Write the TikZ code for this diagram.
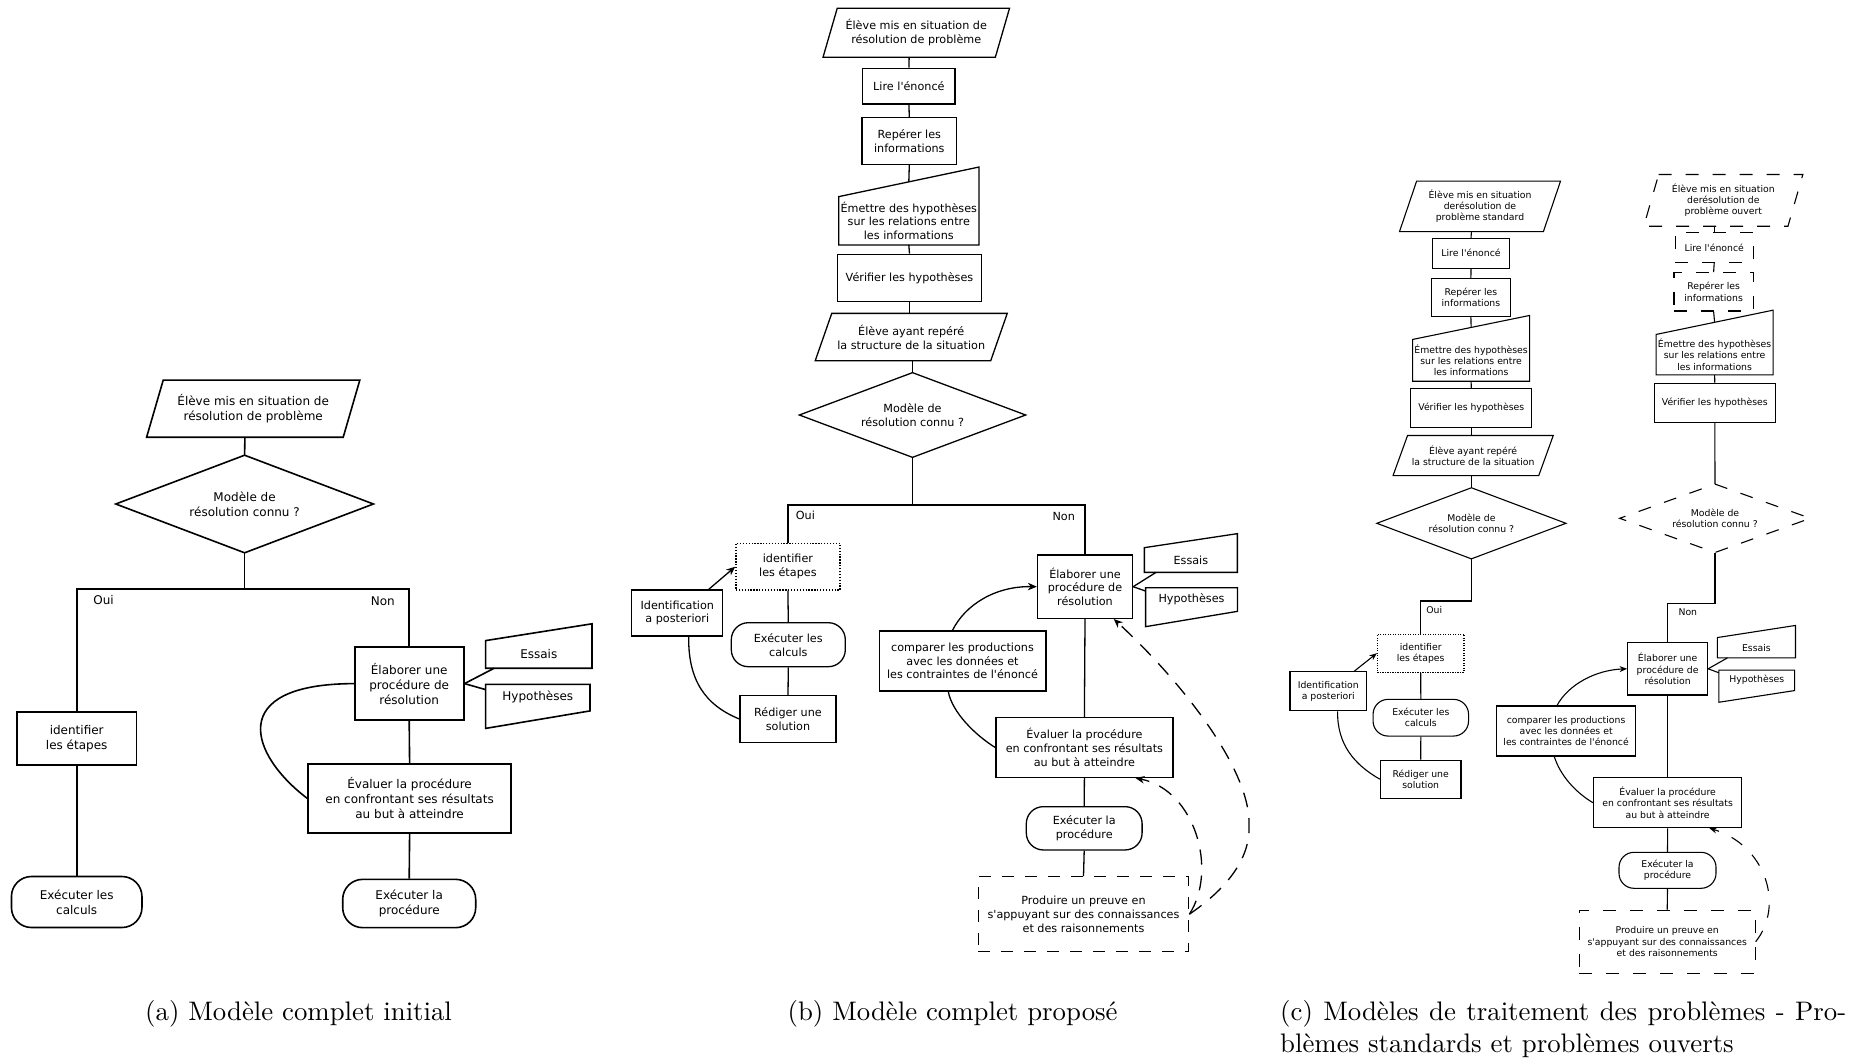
\documentclass[tikz,border=0pt]{standalone}
\usepackage{fontspec}
\newfontfamily\djv{DejaVu Sans}
\font\capf="[lmroman10-regular]:+tlig;" at 26.8pt
\usetikzlibrary{arrows.meta}
\tikzset{
  wh/.style 2 args={minimum width=#1pt, minimum height=#2pt},
  box/.style={draw, rectangle, inner sep=0pt, align=center},
  blank/.style={rectangle, inner sep=0pt, align=center},
  term/.style={draw, rectangle, inner sep=0pt, align=center, rounded corners=#1},
  term/.default=18pt,
  lbl/.style={inner sep=0pt},
  fA/.style={font=\djv\fontsize{12}{15}\selectfont},
  fB/.style={font=\djv\fontsize{11.2}{13.8}\selectfont},
  fC/.style={font=\djv\fontsize{9.3}{11.2}\selectfont},
  dashB/.style={dash pattern=on 12pt off 11pt},
  dashBc/.style={dash pattern=on 15pt off 11pt},
  dashC/.style={dash pattern=on 13pt off 14pt},
  dotB/.style={dash pattern=on 1.3pt off 1.6pt},
  dotC/.style={dash pattern=on 1.1pt off 1.4pt},
  arrB/.style={-{Stealth[length=9pt,width=7.5pt]}},
  arrC/.style={-{Stealth[length=7.5pt,width=6pt]}},
  captxt/.style={font=\capf, inner sep=0pt, anchor=base west}
}
\begin{document}
\begin{tikzpicture}[x=1pt,y=-1pt]
\fill[white] (0,0) rectangle (1865,1057);
\useasboundingbox (0,0) rectangle (1865,1057);

% ---------------- panel (a)
\begin{scope}[line width=1.6pt, every node/.append style={fA}]
\node[blank, wh={195}{55.5}] (a1) at (253.2,408.7) {Élève mis en situation de\\résolution de problème};
\draw ([xshift=8.3pt]a1.north west) -- ([xshift=8.3pt]a1.north east) -- ([xshift=-8.3pt]a1.south east) -- ([xshift=-8.3pt]a1.south west) -- cycle;
\node[blank, wh={256}{96}] (a2) at (244.6,504) {Modèle de\\résolution connu ?};
\draw (a2.north) -- (a2.east) -- (a2.south) -- (a2.west) -- cycle;
\coordinate (aj) at (244.6,589);
\node[box, wh={119.4}{52.8}] (a3) at (76.7,738.4) {identifier\\les étapes};
\node[term=20pt, wh={130.5}{51}] (a4) at (76.7,902) {Exécuter les\\calculs};
\node[box, wh={109}{73.2}] (a5) at (409.2,683.6) {Élaborer une\\procédure de\\résolution};
\node[blank, wh={104.8}{26}] (a6) at (538.8,654.4) {Essais};
\draw (a6.south west) -- (a6.north west) -- ([yshift=16.8pt]a6.north east) -- (a6.south east) -- cycle;
\node[blank, wh={102.8}{23.8}] (a7) at (537.8,697.1) {Hypothèses};
\draw (a7.north west) -- (a7.north east) -- ([yshift=-1.1pt]a7.south east) -- ([yshift=-18.6pt]a7.south west) -- cycle;
\node[box, wh={203}{68.8}] (a8) at (409.6,798.4) {Évaluer la procédure\\en confrontant ses résultats\\au but à atteindre};
\node[term=20pt, wh={133}{48.3}] (a9) at (409.2,903.5) {Exécuter la\\procédure};
\node[lbl] (a10) at (103.6,599.7) {Oui};
\node[lbl] (a11) at (382.8,601.6) {Non};
\draw ([xshift=-8.3pt]a1.south) -- (a2.north);
\draw (a2.south) -- (aj);
\draw (a3.north) |- (aj) -| (a5.north);
\draw (a3.south) -- (a4.north);
\draw (a5.east) -- ([xshift=8.6pt]a6.south west);
\draw (a5.east) -- ([yshift=-5.2pt]a7.north west);
\draw (a5.south) -- (a8.north);
\draw (a8.south) -- (a9.north);
\draw (a5.west) .. controls (225,684) and (250,755) .. (a8.west);
\end{scope}

% ---------------- panel (b)
\begin{scope}[line width=1.3pt, every node/.append style={fB}]
\node[blank, wh={171}{47.7}] (b1) at (916.25,32.85) {Élève mis en situation de\\résolution de problème};
\draw ([xshift=7.1pt]b1.north west) -- ([xshift=7.1pt]b1.north east) -- ([xshift=-7.1pt]b1.south east) -- ([xshift=-7.1pt]b1.south west) -- cycle;
\node[box, wh={92.3}{35.7}] (b2) at (908.9,86.2) {Lire l{\textquotesingle}énoncé};
\node[box, wh={94.7}{46.6}] (b3) at (909.3,141) {Repérer les\\informations};
\node[blank, wh={139}{47}] (b4) at (908.8,220.8) {Émettre des hypothèses\\sur les relations entre\\les informations};
\draw (b4.south west) -- (b4.north west) -- ([yshift=29.6pt]b4.north east) -- (b4.south east) -- cycle;
\node[box, wh={144.4}{47.4}] (b5) at (909.5,278) {Vérifier les hypothèses};
\node[blank, wh={174.2}{46}] (b6) at (911.25,337) {Élève ayant repéré\\la structure de la situation};
\draw ([xshift=8.25pt]b6.north west) -- ([xshift=8.25pt]b6.north east) -- ([xshift=-8.25pt]b6.south east) -- ([xshift=-8.25pt]b6.south west) -- cycle;
\node[blank, wh={225}{83.4}] (b7) at (912.5,415) {Modèle de\\résolution connu ?};
\draw (b7.north) -- (b7.east) -- (b7.south) -- (b7.west) -- cycle;
\coordinate (bj) at (912.5,505);
\node[box, dotB, wh={104}{46.7}] (b8) at (787.9,566.7) {identifier\\les étapes};
\node[term=17pt, wh={114}{44}] (b9) at (788.3,644.7) {Exécuter les\\calculs};
\node[box, wh={96}{46.7}] (b10) at (788,719) {Rédiger une\\solution};
\node[box, wh={91}{46}] (b11) at (677.3,613) {Identification\\a posteriori};
\node[box, wh={95}{63.3}] (b12) at (1085,586.7) {Élaborer une\\procédure de\\résolution};
\node[blank, wh={91.7}{23.4}] (b13) at (1190.85,560) {Essais};
\draw (b13.south west) -- (b13.north west) -- ([yshift=14pt]b13.north east) -- (b13.south east) -- cycle;
\node[blank, wh={90.5}{22}] (b14) at (1191.5,599.3) {Hypothèses};
\draw (b14.north west) -- (b14.north east) -- ([yshift=-0.4pt]b14.south east) -- ([yshift=-15.7pt]b14.south west) -- cycle;
\node[box, wh={166.7}{60}] (b15) at (962.5,661) {comparer les productions\\avec les données et\\les contraintes de l{\textquotesingle}énoncé};
\node[box, wh={177}{59.7}] (b16) at (1084.4,747.5) {Évaluer la procédure\\en confrontant ses résultats\\au but à atteindre};
\node[term=17pt, wh={115.8}{43.3}] (b17) at (1084.2,828.3) {Exécuter la\\procédure};
\node[box, dashB, wh={210.4}{75}] (b18) at (1083.5,914.2) {Produire un preuve en\\s{\textquotesingle}appuyant sur des connaissances\\et des raisonnements};
\node[lbl] (b19) at (805.4,515) {Oui};
\node[lbl] (b20) at (1063.75,516) {Non};
\coordinate (bk) at (1249,826.7);
\draw ([xshift=-7.1pt]b1.south) -- (b2.north);
\draw (b2.south) -- (b3.north);
\draw (b3.south) -- ([yshift=14.8pt]b4.north);
\draw (b4.south) -- (b5.north);
\draw (b5.south) -- (b5.south |- b6.north);
\draw (b7.north) -- (b7.north |- b6.south);
\draw (b7.south) -- (bj);
\draw (b8.north) |- (bj) -| (b12.north);
\draw (b8.south) -- (b9.north);
\draw (b9.south) -- (b10.north);
\draw[arrB] ([xshift=31.4pt]b11.north) -- (b8.west);
\draw ([xshift=11.4pt]b11.south) .. controls (688,680) and (705,705) .. (b10.west);
\draw (b12.east) -- ([xshift=11.7pt]b13.south west);
\draw (b12.east) -- ([yshift=-3.4pt]b14.north west);
\draw[arrB] ([xshift=-10pt]b15.north) .. controls (965,605) and (995,586) .. (b12.west);
\draw ([xshift=-14.2pt]b15.south) .. controls (952,712) and (975,735) .. (b16.west);
\draw (b12.south) -- (b16.north);
\draw (b16.south) -- (b17.north);
\draw (b17.south) -- (b18.north);
\draw[dashBc, arrB] (b18.east) .. controls (1225,890) and (1250,860) .. (bk) .. controls (1252,770) and (1180,680) .. ([xshift=28.75pt]b12.south);
\draw[dashBc, arrB] (b18.east) .. controls (1218,870) and (1195,790) .. ([xshift=51pt]b16.south);
\end{scope}

% ---------------- panel (c)
\begin{scope}[line width=1.1pt, every node/.append style={fC}]
\node[blank, wh={142.8}{49.3}] (c1) at (1480,206.35) {Élève mis en situation\\derésolution de\\problème standard};
\draw ([xshift=8.55pt]c1.north west) -- ([xshift=8.55pt]c1.north east) -- ([xshift=-8.55pt]c1.south east) -- ([xshift=-8.55pt]c1.south west) -- cycle;
\node[box, wh={77.3}{30}] (c2) at (1471,253.3) {Lire l{\textquotesingle}énoncé};
\node[box, wh={79.2}{38.3}] (c3) at (1470.9,297.5) {Repérer les\\informations};
\node[blank, wh={116}{40.7}] (c4) at (1471.1,360.35) {Émettre des hypothèses\\sur les relations entre\\les informations};
\draw (c4.south west) -- (c4.north west) -- ([yshift=24pt]c4.north east) -- (c4.south east) -- cycle;
\node[box, wh={120.8}{39}] (c5) at (1471.3,408.2) {Vérifier les hypothèses};
\node[blank, wh={144.6}{39}] (c6) at (1473.15,455.5) {Élève ayant repéré\\la structure de la situation};
\draw ([xshift=7.25pt]c6.north west) -- ([xshift=7.25pt]c6.north east) -- ([xshift=-7.25pt]c6.south east) -- ([xshift=-7.25pt]c6.south west) -- cycle;
\node[blank, wh={188}{70}] (c7) at (1471.4,523.3) {Modèle de\\résolution connu ?};
\draw (c7.north) -- (c7.east) -- (c7.south) -- (c7.west) -- cycle;
\coordinate (cj) at (1471.4,601);
\node[box, dotC, wh={86.6}{38.3}] (c8) at (1420.7,653.2) {identifier\\les étapes};
\node[term=15pt, wh={95.5}{36.7}] (c9) at (1420.8,717.7) {Exécuter les\\calculs};
\node[box, wh={80.6}{38.3}] (c10) at (1420.7,779.2) {Rédiger une\\solution};
\node[box, wh={76.6}{39}] (c11) at (1328.3,691.2) {Identification\\a posteriori};
\node[lbl] (c12) at (1434.3,610) {Oui};
\draw ([xshift=-8.55pt]c1.south) -- (c2.north);
\draw (c2.south) -- (c3.north);
\draw (c3.south) -- ([yshift=12pt]c4.north);
\draw (c4.south) -- (c5.north);
\draw (c5.south) -- (c5.south |- c6.north);
\draw (c7.north) -- (c7.north |- c6.south);
\draw (c7.south) -- (cj) -| (c8.north);
\draw (c8.south) -- (c9.north);
\draw (c9.south) -- (c10.north);
\draw[arrC] ([xshift=26pt]c11.north) -- (c8.west);
\draw ([xshift=9.3pt]c11.south) .. controls (1337,745) and (1355,765) .. (c10.west);

\node[blank, wh={143.1}{50.7}] (c13) at (1723.3,200.35) {Élève mis en situation\\derésolution de\\problème ouvert};
\draw[dashC] ([xshift=7.45pt]c13.north west) -- ([xshift=7.45pt]c13.north east) -- ([xshift=-7.45pt]c13.south east) -- ([xshift=-7.45pt]c13.south west) -- cycle;
\node[box, dashC, wh={78}{29.7}] (c14) at (1714.2,247.5) {Lire l{\textquotesingle}énoncé};
\node[box, dashC, wh={79.2}{38.3}] (c15) at (1713.6,291.8) {Repérer les\\informations};
\node[blank, wh={116}{39.3}] (c16) at (1714.6,354.65) {Émettre des hypothèses\\sur les relations entre\\les informations};
\draw (c16.south west) -- (c16.north west) -- ([yshift=24.3pt]c16.north east) -- (c16.south east) -- cycle;
\node[box, wh={120.8}{39}] (c17) at (1714.8,402.8) {Vérifier les hypothèses};
\node[blank, wh={189.6}{67.3}] (c18) at (1715,518.3) {Modèle de\\résolution connu ?};
\draw[dashC] (c18.north) -- (c18.east) -- (c18.south) -- (c18.west) -- cycle;
\coordinate (cj2) at (1715,603.3);
\node[box, wh={80}{52.3}] (c19) at (1667.6,668.8) {Élaborer une\\procédure de\\résolution};
\node[blank, wh={77}{19.2}] (c20) at (1756.4,647.7) {Essais};
\draw (c20.south west) -- (c20.north west) -- ([yshift=12.1pt]c20.north east) -- (c20.south east) -- cycle;
\node[blank, wh={74.7}{18.6}] (c21) at (1756.75,680) {Hypothèses};
\draw (c21.north west) -- (c21.north east) -- ([yshift=-0.7pt]c21.south east) -- ([yshift=-12.4pt]c21.south west) -- cycle;
\node[box, wh={139.4}{50}] (c22) at (1566.1,731) {comparer les productions\\avec les données et\\les contraintes de l{\textquotesingle}énoncé};
\node[box, wh={148.3}{50}] (c23) at (1667.6,802.7) {Évaluer la procédure\\en confrontant ses résultats\\au but à atteindre};
\node[term=15pt, wh={97}{36}] (c24) at (1667.5,870.3) {Exécuter la\\procédure};
\node[box, dashC, wh={175.8}{63.3}] (c25) at (1667.2,941.7) {Produire un preuve en\\s{\textquotesingle}appuyant sur des connaissances\\et des raisonnements};
\node[lbl] (c26) at (1687.8,611.7) {Non};
\draw (c14.north) -- (c14.north |- c13.south);
\draw (c14.south) -- (c15.north);
\draw (c15.south) -- ([yshift=12.15pt]c16.north);
\draw (c16.south) -- (c17.north);
\draw (c17.south) -- (c18.north);
\draw (c18.south) -- (cj2) -| (c19.north);
\draw (c19.east) -- ([xshift=10.1pt]c20.south west);
\draw (c19.east) -- ([yshift=-2.6pt]c21.north west);
\draw[arrC] ([xshift=-9.1pt]c22.north) .. controls (1568,685) and (1595,670) .. (c19.west);
\draw ([xshift=-11.8pt]c22.south) .. controls (1560,775) and (1575,792) .. (c23.west);
\draw (c19.south) -- (c23.north);
\draw (c23.south) -- (c24.north);
\draw (c24.south) -- (c25.north);
\draw[dashC, arrC] (c25.east) .. controls (1785,905) and (1765,845) .. ([xshift=41.8pt]c23.south);
\end{scope}

% ---------------- captions
\node[captxt] (capa) at (145,1020) {(a) Modèle complet initial};
\node[captxt] (capb) at (787.4,1020) {(b) Modèle complet proposé};
\node[captxt] (capc1) at (1280,1020) {\makebox[566pt][s]{(c) Modèles de traitement des problèmes - Pro-}};
\node[captxt] (capc2) at (1280,1052.5) {blèmes standards et problèmes ouverts};
\end{tikzpicture}
\end{document}
